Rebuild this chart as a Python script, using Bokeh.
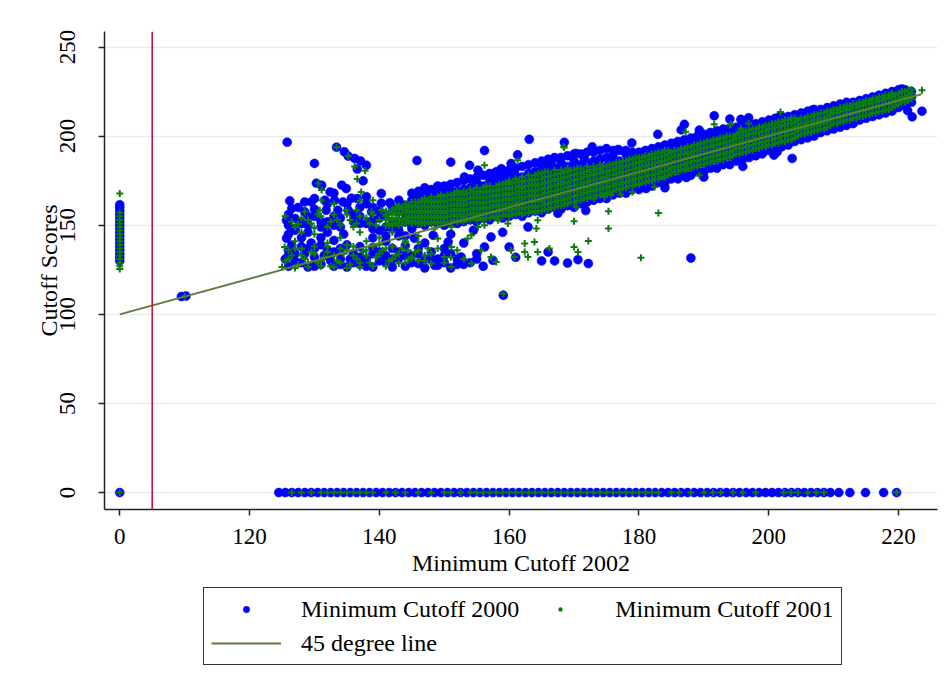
from bokeh.plotting import figure
from bokeh.layouts import column
from bokeh.models import FixedTicker, Span, Legend, LegendItem, Range1d
from bokeh.embed import file_html
from bokeh.resources import INLINE

# ---------------- data ----------------
# x = Minimum Cutoff 2002, y = cutoff score (2000 = blue dots, 2001 = green pluses)

# schools whose 2002 cutoff is 0
zero_y_2000 = [0, 130, 132, 134, 136, 138, 140, 142, 144, 146, 148, 150, 152, 154, 156, 158, 160, 161.5]
zero_y_2001 = [0, 125.5, 127, 129, 131, 133, 135, 137, 139, 141, 143, 145, 147, 149, 151, 153, 155, 157, 167.8]

# schools with a score of 0
bottom_x_2000 = [124.5, 125.5, 126.5, 127.5, 128.5, 129.5, 130.5, 131.5, 132.5, 133.5, 134.5, 135.5,
                 136.5, 137.5, 138.5, 139.5, 140.5, 141.5, 142.5, 143.5, 144.5, 145.5, 146.5, 147.5,
                 148.5, 149.5, 150.5, 151.5, 152.5, 153.5, 154.5, 155.5, 156.5, 157.5, 158.5, 159.5,
                 160.5, 161.5, 162.5, 163.5, 164.5, 165.5, 166.5, 167.5, 168.5, 169.5, 170.5, 171.5,
                 172.5, 173.5, 174.5, 175.5, 176.5, 177.5, 178.5, 179.5, 180.5, 181.5, 182.5, 183.5,
                 184.5, 185.5, 186.5, 187.5, 188.5, 189.5, 190.5, 191.5, 192.5, 193.5, 194.5, 195.5,
                 196.5, 197.5, 198.5, 199.5, 200.5, 201.5, 202.5, 203.5, 204.5, 205.5, 206.5, 207.5,
                 208.5, 209.5, 210.8, 212.5, 214.9, 217.7, 219.7]
bottom_x_2001 = [126.5, 128, 129.5, 131, 132, 133, 134, 135, 136, 137, 138, 139, 141, 142.5, 144, 146,
                 148, 150, 151, 152.5, 154, 155, 156, 157, 158, 159, 160, 161, 162, 163, 164, 165, 166,
                 167, 168, 169, 170, 171, 172, 173, 174, 175, 176, 177, 178, 179, 180, 181, 182, 183,
                 185, 186.2, 188, 190, 191.4, 192.6, 194.5, 196, 198, 202.3, 203.4, 204.5, 206, 207.3,
                 208.5, 219.7]

# scattered points, Minimum Cutoff 2000
pts_2000 = [
    (109.5, 110), (110.2, 110.3), (159.1, 110.7),
    (125.8, 196.6), (130, 184.7), (133.4, 193.8), (134.6, 191.2), (135.2, 188.8), (136.2, 187.5),
    (137.1, 186.1), (138, 183.7), (136.6, 181.5), (137.5, 174.9),
    (130.3, 173.6), (131.1, 172.5), (132.4, 168.7), (134.2, 172.5), (134.9, 170.6), (135.7, 165.2),
    (134.4, 163.1), (133.1, 164), (131.6, 164), (126.2, 163.7), (126.5, 159.4), (128.5, 163.1),
    (129.5, 163.1), (131.8, 158.4), (133.6, 158.4), (135.2, 158.4), (140.3, 167.8), (141.6, 162.6),
    (125.7, 152.8), (127, 153.8), (128.5, 157.5), (140.3, 162.4), (138.8, 157.5), (143.9, 161.2),
    (142.8, 157.5), (130, 155), (132, 152), (134, 154), (136, 152), (138, 151), (140, 154), (142, 152),
    (144, 156), (129, 150), (127, 148), (131, 149), (133, 150), (137, 155), (139, 148), (141, 149),
    (143, 150), (136.6, 165), (138, 162), (137, 160),
    (126, 145), (126, 150), (126, 156), (127.5, 160), (128, 151), (129, 146), (129, 155), (130, 159),
    (130, 165), (131, 152), (132, 146), (132, 162), (133, 155), (133, 168), (134, 149), (135, 162),
    (136, 156), (137, 151), (138, 166), (139, 153), (139, 160), (140, 147), (140, 158), (141, 144),
    (141, 156), (142, 148), (142, 160), (143, 147), (143, 164), (144, 144), (144, 152), (145, 148),
    (125.7, 142.7), (126.5, 138.8), (127, 147.2), (128, 143), (129.5, 140), (131, 143), (133, 141.5),
    (134.5, 145), (139, 143), (141, 141), (143, 144),
    (125.5, 131), (126, 127), (127, 134), (128, 129), (129, 126.5), (130, 132), (131, 128), (132, 136),
    (133, 127), (134, 131), (135, 126.5), (136, 134), (137, 128), (138, 131), (139, 126.5), (140, 135),
    (141, 129), (142, 126.5), (143, 131.5), (144, 127), (145, 133), (146, 128.5), (147, 126), (148, 131),
    (149, 127.5), (150, 129), (151, 126), (152, 131), (153, 128), (126, 136), (128, 138), (130, 137),
    (134, 137), (137, 138), (139, 137.5), (142, 137), (144, 138.5), (128.5, 134), (131.5, 133),
    (135.5, 131), (140, 130), (145, 129), (132.5, 130), (146, 134), (150, 133),
    (126, 133), (127, 130), (129, 137), (130, 127), (131, 139), (132, 133), (133, 135), (134, 128),
    (135, 139), (136, 129), (137, 132), (138, 127), (139, 134), (141, 133), (142, 131), (143, 135),
    (144, 133), (146, 137), (147, 131), (148, 135), (149, 131), (150, 137), (151, 134), (152, 128),
    (154, 129), (155, 131), (156, 127),
    (145.4, 142.7), (147, 140), (148.3, 144.4), (150.6, 140.6), (154.5, 147.2), (157.2, 143.4),
    (160, 137.8), (162.9, 149), (166, 135), (167.5, 156.7), (169, 128.8), (148.5, 127.5), (152.6, 132.2),
    (157.5, 130.3), (156.2, 137.8), (170.6, 130.7), (172.2, 128.5), (155, 134), (159, 146), (165, 130),
    (167, 130), (161, 132), (153, 140), (151, 145),
    (145.8, 186.3), (151, 185.4), (156.2, 191.9), (153.9, 183.6), (155.2, 180.9), (158.8, 181.7),
    (160.3, 184.6), (161.3, 189.5), (163.1, 198.2), (168.5, 196.5), (165.4, 184.6), (166.5, 185.6),
    (153.1, 177.1), (149, 171.5), (146.5, 168.7), (172.8, 194), (170.3, 190.3), (171.6, 187.5),
    (176.8, 192.5), (178.9, 196.2), (182.9, 201), (187, 206.6), (189.3, 203.4), (191.6, 211.4),
    (194, 209.6), (195.7, 209.4), (196.9, 210.3), (201.8, 211.4), (206.7, 214.6), (186.5, 203.5),
    (171.8, 158.2), (181.1, 170.6), (187.3, 176.8), (203.6, 187.5), (188, 131.6), (200.8, 189.3),
    (201.3, 191.2), (184, 171), (190, 177), (196, 183),
    (221.4, 214.3), (222.1, 210.8), (223.6, 214), (220.5, 226.5),
]

# dense band along the diagonal, Minimum Cutoff 2000: (x, [scores])
band_2000 = [
    (145, [150, 155, 159, 164, 168]), (146, [151, 156, 160, 165, 169]),
    (147, [150, 154, 159, 163, 167, 171]), (148, [152, 157, 161, 166, 170]),
    (149, [151, 155, 160, 164, 168, 172]), (150, [150, 154, 159, 163, 168, 172]),
    (151, [152, 156, 161, 165, 169, 173]), (152, [151, 155, 160, 164, 169, 174]),
    (153, [152, 157, 161, 166, 170, 175]), (154, [153, 158, 162, 167, 171, 176]),
    (155, [152, 156, 161, 165, 170, 174, 177]), (156, [154, 158, 163, 167, 172, 178]),
    (157, [153, 157, 162, 166, 171, 175, 179]), (158, [155, 159, 164, 168, 173, 177, 180]),
    (159, [154, 158, 163, 167, 172, 176, 180]), (160, [155, 160, 164, 169, 173, 177, 181]),
    (161, [156, 161, 165, 170, 174, 178, 182]), (162, [155, 159, 164, 168, 173, 177, 183]),
    (163, [157, 161, 166, 170, 175, 179, 184]), (164, [158, 162, 167, 171, 176, 180, 185]),
    (165, [157, 161, 166, 170, 175, 179, 183, 186]), (166, [159, 163, 168, 172, 177, 181, 187]),
    (167, [160, 164, 169, 173, 178, 182, 188]), (168, [159, 163, 168, 172, 177, 181, 185, 188]),
    (169, [161, 165, 170, 174, 179, 183, 189]), (170, [160, 164, 169, 173, 178, 182, 186, 190]),
    (171, [162, 166, 171, 175, 180, 184, 190]), (172, [163, 167, 172, 176, 181, 185, 191]),
    (173, [164, 168, 173, 177, 182, 186, 191]), (174, [165, 169, 174, 178, 183, 187, 192]),
    (175, [165, 170, 174, 179, 183, 188, 193]), (176, [167, 171, 176, 180, 185, 189, 192]),
    (177, [168, 172, 177, 181, 186, 192]), (178, [168, 173, 177, 182, 186, 190, 192]),
    (179, [170, 174, 179, 183, 187, 191]), (180, [170, 175, 179, 184, 188, 191]),
    (181, [172, 176, 181, 185, 189, 192]), (182, [172, 177, 181, 186, 190, 193]),
    (183, [174, 178, 183, 187, 191, 194]), (184, [174, 179, 183, 188, 192, 195]),
    (185, [176, 180, 185, 189, 193, 196]), (186, [176, 181, 185, 190, 194, 197]),
    (187, [178, 182, 187, 191, 195, 198]), (188, [178, 183, 187, 192, 196, 199]),
    (189, [180, 184, 189, 193, 197, 200]), (190, [180, 185, 189, 194, 198, 201]),
    (191, [182, 186, 191, 195, 199, 202]), (192, [182, 187, 191, 196, 200, 203]),
    (193, [184, 188, 193, 197, 201, 204]), (194, [184, 189, 193, 198, 201, 204]),
    (195, [186, 190, 195, 199, 202, 205]), (196, [187, 191, 196, 200, 203, 206]),
    (197, [188, 192, 197, 201, 204, 207]), (198, [189, 193, 198, 202, 205, 207]),
    (199, [190, 194, 199, 203, 206, 208]), (200, [192, 196, 200, 204, 207, 209]),
    (201, [193, 197, 201, 205, 208, 210]), (202, [194, 198, 202, 206, 209, 211]),
    (203, [195, 199, 203, 207, 211]), (204, [197, 201, 205, 209, 212]),
    (205, [198, 202, 206, 210, 213]), (206, [199, 203, 207, 211, 214]),
    (207, [200, 204, 208, 212, 215]), (208, [202, 206, 210, 213, 215]),
    (209, [203, 207, 211, 214, 216]), (210, [204, 208, 212, 215, 217]),
    (211, [205, 209, 213, 216, 218]), (212, [206, 210, 214, 217, 219]),
    (213, [207, 211, 215, 219]), (214, [209, 213, 217, 220]), (215, [210, 214, 218, 221]),
    (216, [211, 215, 219, 222]), (217, [212, 216, 220, 223]), (218, [213, 217, 221, 224]),
    (219, [214, 218, 222, 225]), (220, [216, 220, 223, 226]), (221, [217, 221, 224, 226]),
    (222, [219, 222, 225]),
]

# scattered points, Minimum Cutoff 2001
pts_2001 = [
    (110, 110.2), (159.1, 111.5),
    (133.4, 193.8), (135.2, 188.8), (136.2, 183), (137.8, 180.5), (136.6, 176), (137.2, 168.7),
    (137, 163.7),
    (130.6, 173.4), (131.1, 169.7), (131.1, 164), (130.8, 158.4), (128.5, 157.5), (134.9, 158.4),
    (136.5, 158.4), (138.8, 157.5), (140.3, 158.4), (133, 162), (139, 164),
    (126.5, 152), (128, 154), (129.5, 151), (131, 155), (132.5, 152), (134, 150), (135.5, 153),
    (137, 155), (138.5, 151), (140, 153), (141.5, 150), (143, 154), (127, 149), (130, 148.5),
    (133, 156), (136, 149), (139, 156), (142, 157), (125.5, 155),
    (127.5, 150.5), (129, 153), (130.5, 156), (132, 149), (133.5, 153), (135, 156), (136.5, 151),
    (138, 154), (139.5, 150), (141, 155), (142.5, 151), (144, 153),
    (125.4, 137.8), (127, 141), (130, 145), (132, 140), (128, 146), (134, 143), (137, 146), (140, 143),
    (142, 146), (144, 141), (146, 144), (135, 139), (138, 141),
    (125.5, 130), (126.5, 133), (127.5, 128), (128.5, 131), (129.5, 135), (130.5, 129), (131.5, 132),
    (132.5, 127), (133.5, 130), (134.5, 134), (135.5, 128), (136.5, 131), (137.5, 135), (138.5, 129),
    (139.5, 132), (140.5, 136), (141.5, 130), (142.5, 133), (143.5, 137), (144.5, 131), (145.5, 135),
    (126, 136), (128, 137), (130, 138), (132, 135), (134, 137), (136, 138), (138, 136), (140, 139),
    (142, 138), (144, 140), (125, 126.5), (127, 126), (129, 126.5), (131, 127), (133, 126.5),
    (135, 126), (137, 126.5), (139, 127), (141, 127), (143, 128.5), (146, 130), (147, 133), (148, 128.5),
    (126, 131), (127, 137), (128, 133), (129, 129), (130, 134), (131, 130), (132, 138), (133, 133),
    (134, 129), (135, 136), (136, 133), (137, 129), (138, 133), (139, 138), (140, 134), (141, 137),
    (142, 131), (143, 134), (144, 129), (145, 132), (146, 136), (147, 130), (148, 134), (149, 137),
    (150, 129), (151, 132), (152, 136), (153, 131),
    (149, 142.5), (151.1, 137.8), (150, 132.2), (153.6, 142.5), (154.2, 144.4), (155.7, 136),
    (157.2, 132.2), (158, 129.4), (154.2, 128.5), (151.1, 126.6), (160.3, 136), (160.8, 132.2),
    (162.4, 139.7), (162.4, 135), (162.9, 132.2), (164.4, 135), (163.9, 140.6), (166.2, 136.9),
    (164.4, 152.8), (164.2, 148.1), (159.8, 151), (158.3, 152.8), (148.5, 148.1), (146.5, 151),
    (146, 140.6), (147.5, 136.9), (144.4, 136), (144.9, 131.3), (156.2, 150), (155.2, 149),
    (152.6, 152.8), (151.1, 149),
    (170, 152.2), (170, 137.8), (170.6, 135), (172.2, 141.2), (175.3, 148.1), (175.3, 157.9),
    (180.3, 131.8), (183, 156.9), (168.5, 161.2), (170.3, 160.3), (173.1, 165), (174.7, 165.9),
    (175.7, 166.9), (177.2, 167.3), (179, 168.7), (182.4, 171.5), (183.9, 177.1), (187.2, 181.5),
    (189.3, 178.1),
    (201.8, 213.5), (187.2, 202.4), (191.6, 206.6), (194.2, 206.6), (168.4, 194), (156.2, 183.7),
    (161.3, 186.5), (168.5, 193.6), (194, 206.2), (195.7, 204.3), (196.9, 207.1), (223.6, 225.8),
]

# dense band along the diagonal, Minimum Cutoff 2001: (x, [scores])
band_2001 = [
    (141, [150, 153, 156, 158]), (141.5, [151, 154, 157]), (142, [150, 153, 156, 159]),
    (142.5, [151, 154, 157, 160]), (143, [150, 153, 156, 159, 161]), (143.5, [151, 154, 157, 160]),
    (144, [151, 154, 157, 160, 162]), (144.5, [152, 155, 158, 161]), (145, [151, 154, 157, 160, 163]),
    (145.5, [152, 155, 158, 161, 163]), (146, [151, 154, 157, 160, 163]),
    (146.5, [152, 155, 158, 161, 164]), (147, [151, 154, 157, 160, 163, 165]),
    (147.5, [152, 155, 158, 161, 164]), (148, [151, 154, 157, 160, 163, 166]),
    (148.5, [152, 155, 158, 161, 164]), (149, [151, 154, 157, 160, 163, 166]),
    (149.5, [152, 155, 158, 161, 164, 167]), (150, [151, 154, 157, 160, 163, 166]),
    (150.5, [152, 155, 158, 161, 164, 167]), (151, [152, 155, 158, 161, 164, 167]),
    (151.5, [153, 156, 159, 162, 165, 168]), (152, [152, 155, 158, 161, 164, 167, 169]),
    (152.5, [153, 156, 159, 162, 165, 168]), (153, [152, 155, 158, 161, 164, 167, 169]),
    (153.5, [153, 156, 159, 162, 165, 168]), (154, [153, 156, 159, 162, 165, 168, 170]),
    (154.5, [154, 157, 160, 163, 166, 169]), (155, [153, 156, 159, 162, 165, 168, 171]),
    (155.5, [154, 157, 160, 163, 166, 169]), (156, [153, 156, 159, 162, 165, 168, 171]),
    (156.5, [154, 157, 160, 163, 166, 169, 172]), (157, [154, 157, 160, 163, 166, 169, 172]),
    (157.5, [155, 158, 161, 164, 167, 170]), (158, [154, 157, 160, 163, 166, 169, 172]),
    (158.5, [155, 158, 161, 164, 167, 170, 173]), (159, [155, 158, 161, 164, 167, 170, 173]),
    (159.5, [156, 159, 162, 165, 168, 171, 174]), (160, [155, 158, 161, 164, 167, 170, 173, 175]),
    (160.5, [156, 159, 162, 165, 168, 171, 174]), (161, [156, 159, 162, 165, 168, 171, 174, 176]),
    (161.5, [157, 160, 163, 166, 169, 172, 175]), (162, [156, 159, 162, 165, 168, 171, 174, 177]),
    (162.5, [157, 160, 163, 166, 169, 172, 175]), (163, [157, 160, 163, 166, 169, 172, 175, 178]),
    (163.5, [158, 161, 164, 167, 170, 173, 176]), (164, [157, 160, 163, 166, 169, 172, 175, 178]),
    (164.5, [158, 161, 164, 167, 170, 173, 176, 179]), (165, [158, 161, 164, 167, 170, 173, 176, 179]),
    (165.5, [159, 162, 165, 168, 171, 174, 177, 180]), (166, [159, 162, 165, 168, 171, 174, 177, 180]),
    (166.5, [160, 163, 166, 169, 172, 175, 178]), (167, [160, 163, 166, 169, 172, 175, 178, 181]),
    (167.5, [161, 164, 167, 170, 173, 176, 179]), (168, [161, 164, 167, 170, 173, 176, 179, 181]),
    (168.5, [162, 165, 168, 171, 174, 177, 180]), (169, [162, 165, 168, 171, 174, 177, 180, 182]),
    (169.5, [163, 166, 169, 172, 175, 178, 181]), (170, [163, 166, 169, 172, 175, 178, 181]),
    (170.5, [164, 167, 170, 173, 176, 179, 182]), (171, [164, 167, 170, 173, 176, 179, 182]),
    (171.5, [165, 168, 171, 174, 177, 180]), (172, [165, 168, 171, 174, 177, 180, 183]),
    (172.5, [166, 169, 172, 175, 178, 181]), (173, [166, 169, 172, 175, 178, 181, 183]),
    (173.5, [167, 170, 173, 176, 179, 182]), (174, [167, 170, 173, 176, 179, 182, 184]),
    (174.5, [168, 171, 174, 177, 180, 183]), (175, [168, 171, 174, 177, 180, 183]),
    (175.5, [169, 172, 175, 178, 181, 184]), (176, [169, 172, 175, 178, 181, 184]),
    (176.5, [170, 173, 176, 179, 182, 185]), (177, [170, 173, 176, 179, 182, 185]),
    (177.5, [171, 174, 177, 180, 183, 186]), (178, [171, 174, 177, 180, 183, 186]),
    (178.5, [172, 175, 178, 181, 184, 187]), (179, [172, 175, 178, 181, 184, 187]),
    (179.5, [173, 176, 179, 182, 185, 188]), (180, [173, 176, 179, 182, 185, 188]),
    (180.5, [174, 177, 180, 183, 186, 188]), (181, [174, 177, 180, 183, 186, 189]),
    (181.5, [175, 178, 181, 184, 187, 189]), (182, [175, 178, 181, 184, 187, 190]),
    (182.5, [176, 179, 182, 185, 188, 190]), (183, [176, 179, 182, 185, 188, 191]),
    (183.5, [177, 180, 183, 186, 189, 191]), (184, [177, 180, 183, 186, 189, 192]),
    (184.5, [178, 181, 184, 187, 190, 192]), (185, [179, 182, 185, 188, 191]),
    (185.5, [180, 183, 186, 189, 192]), (186, [180, 183, 186, 189, 192]),
    (186.5, [181, 184, 187, 190, 193]), (187, [181, 184, 187, 190, 193]),
    (187.5, [182, 185, 188, 191, 194]), (188, [182, 185, 188, 191, 194]),
    (188.5, [183, 186, 189, 192, 195]), (189, [183, 186, 189, 192, 195]),
    (189.5, [184, 187, 190, 193, 196]), (190, [184, 187, 190, 193, 196]),
    (190.5, [185, 188, 191, 194, 197]), (191, [185, 188, 191, 194, 197]),
    (191.5, [186, 189, 192, 195, 198]), (192, [186, 189, 192, 195, 198]),
    (192.5, [187, 190, 193, 196, 199]), (193, [187, 190, 193, 196, 199]),
    (193.5, [188, 191, 194, 197, 200]), (194, [188, 191, 194, 197, 200]),
    (194.5, [189, 192, 195, 198, 200]), (195, [190, 193, 196, 199, 201]),
    (195.5, [190, 193, 196, 199, 202]), (196, [191, 194, 197, 200, 202]),
    (196.5, [191, 194, 197, 200, 203]), (197, [192, 195, 198, 201, 203]),
    (197.5, [192, 195, 198, 201, 204]), (198, [193, 196, 199, 202, 204]),
    (198.5, [193, 196, 199, 202, 205]), (199, [194, 197, 200, 203, 205]),
    (199.5, [194, 197, 200, 203, 206]), (200, [195, 198, 201, 204, 206]),
    (200.5, [195, 198, 201, 204, 207]), (201, [196, 199, 202, 205, 207]),
    (201.5, [196, 199, 202, 205, 208]), (202, [197, 200, 203, 206, 208]),
    (202.5, [197, 200, 203, 206, 209]), (203, [198, 201, 204, 207, 209]),
    (203.5, [198, 201, 204, 207, 210]), (204, [199, 202, 205, 208, 210]),
    (204.5, [200, 203, 206, 209]), (205, [201, 204, 207, 210]), (205.5, [201, 204, 207, 210]),
    (206, [202, 205, 208, 211]), (206.5, [202, 205, 208, 211]), (207, [203, 206, 209, 212]),
    (207.5, [203, 206, 209, 212]), (208, [204, 207, 210, 213]), (208.5, [204, 207, 210, 213]),
    (209, [205, 208, 211, 214]), (209.5, [206, 209, 212, 214]), (210, [207, 210, 213, 215]),
    (210.5, [207, 210, 213, 215]), (211, [208, 211, 214, 216]), (211.5, [208, 211, 214, 216]),
    (212, [209, 212, 215, 217]), (212.5, [209, 212, 215, 217]), (213, [210, 213, 216, 218]),
    (213.5, [210, 213, 216, 218]), (214, [211, 214, 217, 219]), (214.5, [211, 214, 217, 219]),
    (215, [212, 215, 218, 220]), (215.5, [212, 215, 218, 220]), (216, [213, 216, 219, 221]),
    (216.5, [213, 216, 219, 221]), (217, [214, 217, 220, 222]), (217.5, [214, 217, 220, 222]),
    (218, [215, 218, 221, 223]), (218.5, [215, 218, 221, 223]), (219, [216, 219, 222, 224]),
    (219.5, [217, 220, 223]), (220, [218, 221, 224]), (220.5, [219, 222, 225]),
    (221, [219, 222, 225]), (221.5, [220, 223, 226]), (222, [221, 224, 226]),
]

line_45 = [100, 223.5]            # 45 degree line (from the axis break to the end)
x_ticks = [100, 120, 140, 160, 180, 200, 220]
x_tick_labels = ["0", "120", "140", "160", "180", "200", "220"]
y_ticks = [0, 50, 100, 150, 200, 250]
ZERO_POS = 100                    # a 2002 cutoff of 0 is shown at the axis break
RED_LINE = 105

# ---------------- assemble ----------------
def expand(cols):
    xs, ys = [], []
    for x, yl in cols:
        for y in yl:
            xs.append(x)
            ys.append(y)
    return xs, ys

def series(zero_y, bottom_x, pts, band):
    xs = [0] * len(zero_y) + list(bottom_x) + [p[0] for p in pts]
    ys = list(zero_y) + [0] * len(bottom_x) + [p[1] for p in pts]
    bx, by = expand(band)
    xs += bx
    ys += by
    xs = [ZERO_POS if v == 0 else v for v in xs]
    return xs, ys

x00, y00 = series(zero_y_2000, bottom_x_2000, pts_2000, band_2000)
x01, y01 = series(zero_y_2001, bottom_x_2001, pts_2001, band_2001)

BLUE = "#0000ff"
GREEN = "#0a7d0a"
OLIVE = "#5e7d3a"
FONT = "Liberation Serif"

p = figure(width=951, height=586, x_range=(97.65, 226), y_range=(-9.5, 258.7),
           output_backend="svg", toolbar_location=None,
           min_border_left=104, min_border_right=14, min_border_top=31, min_border_bottom=77)
p.background_fill_color = "white"
p.border_fill_color = "white"
p.outline_line_color = None

r00 = p.scatter(x00, y00, marker="circle", size=9, fill_color=BLUE, line_color=BLUE, line_width=0.5)
r01 = p.scatter(x01, y01, marker="cross", size=7, line_color=GREEN, line_width=2)
rl = p.line(line_45, line_45, line_color=OLIVE, line_width=2)
p.add_layout(Span(location=RED_LINE, dimension="height", line_color="#c8143c", line_width=1.6))

# axes
p.xaxis.ticker = FixedTicker(ticks=x_ticks)
p.xaxis.major_label_overrides = {t: l for t, l in zip(x_ticks, x_tick_labels)}
p.yaxis.ticker = FixedTicker(ticks=y_ticks)
p.xaxis.axis_label = "Minimum Cutoff 2002"
p.yaxis.axis_label = "Cutoff Scores"
for ax in (p.xaxis, p.yaxis):
    ax.axis_line_color = "#222222"
    ax.axis_line_width = 1.5
    ax.major_tick_line_color = "#222222"
    ax.major_tick_line_width = 1.5
    ax.major_tick_out = 6
    ax.major_tick_in = 0
    ax.minor_tick_line_color = None
    ax.major_label_text_font = FONT
    ax.major_label_text_font_size = "23px"
    ax.major_label_text_color = "black"
    ax.axis_label_text_font = FONT
    ax.axis_label_text_font_size = "24px"
    ax.axis_label_text_font_style = "normal"
    ax.axis_label_text_color = "black"
p.yaxis.major_label_orientation = "vertical"
p.yaxis.major_label_standoff = 23
p.yaxis.axis_label_standoff = -4
p.xaxis.major_label_standoff = 13
p.xaxis.axis_label_standoff = 3

p.xgrid.grid_line_color = None
p.ygrid.grid_line_color = "#e6edf0"
p.ygrid.grid_line_width = 1.5

# ---------------- legend panel below the plot ----------------
pl = figure(width=951, height=108, x_range=Range1d(0, 1), y_range=Range1d(0, 1),
            output_backend="svg", toolbar_location=None, x_axis_type=None, y_axis_type=None,
            min_border=0)
pl.outline_line_color = None
pl.grid.grid_line_color = None
pl.background_fill_color = "white"
pl.border_fill_color = "white"
# the same series again (all outside this panel's range) only to provide the legend keys
k00 = pl.scatter(x00, y00, marker="circle", fill_color=BLUE, line_color=BLUE, line_width=0.5)
k01 = pl.scatter(x01, y01, marker="circle", fill_color=GREEN, line_color="white", line_width=2)
kl = pl.line(line_45, line_45, line_color=OLIVE, line_width=2)

legend = Legend(items=[LegendItem(label="Minimum Cutoff 2000", renderers=[k00]),
                       LegendItem(label="Minimum Cutoff 2001", renderers=[k01]),
                       LegendItem(label="45 degree line", renderers=[kl])],
                orientation="horizontal", ncols=2, location=(99, 29),
                glyph_width=70, glyph_height=16, label_height=28, label_standoff=20,
                spacing=6, padding=7, margin=0,
                label_text_font=FONT, label_text_font_size="24px", label_text_color="black",
                border_line_color="#333333", border_line_width=1.2, border_line_alpha=1,
                background_fill_color="white", background_fill_alpha=1)
pl.add_layout(legend)

layout = column(p, pl, spacing=0)
open("out.html", "w").write(file_html(layout, INLINE))
